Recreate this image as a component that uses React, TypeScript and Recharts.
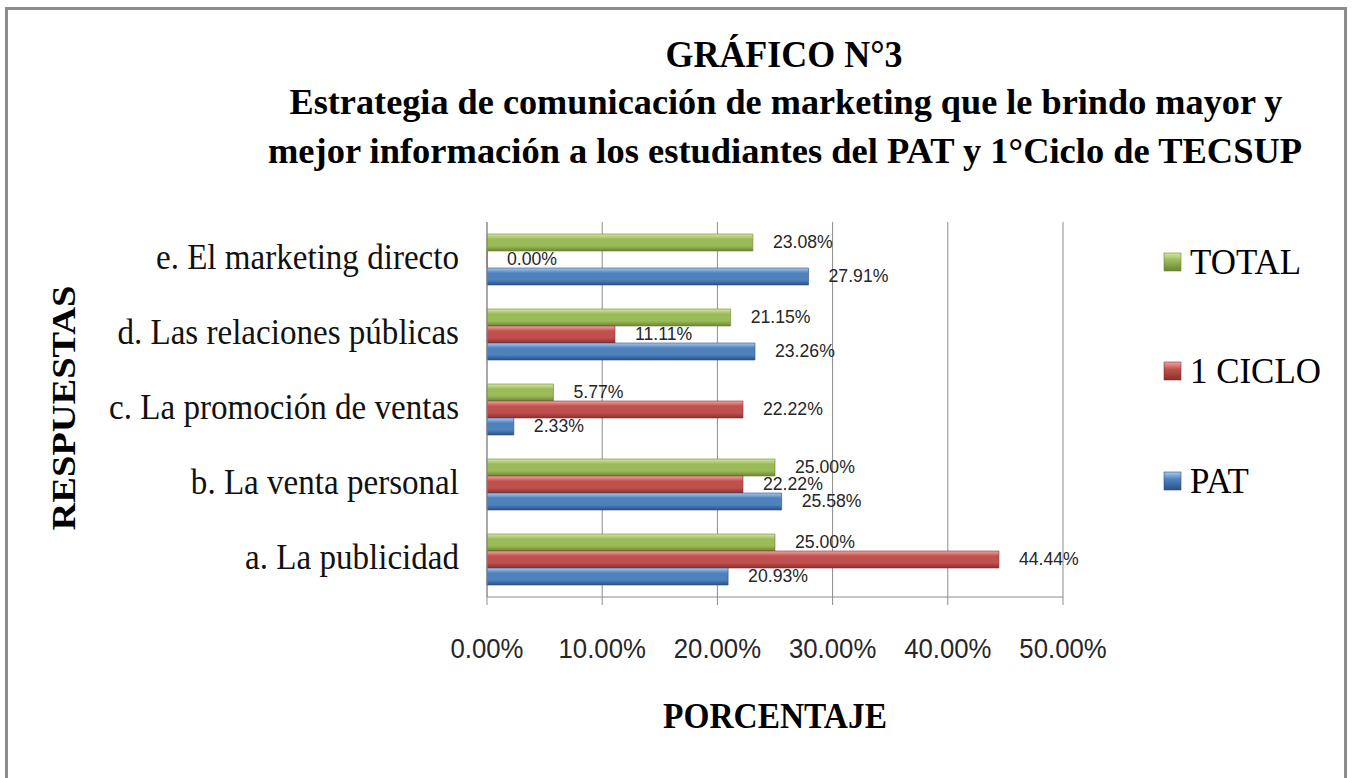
import React from 'react';
import { BarChart, Bar, XAxis, YAxis, CartesianGrid, LabelList } from 'recharts';

const categories = [
  'a. La publicidad',
  'b. La venta personal',
  'c. La promoción de ventas',
  'd. Las relaciones públicas',
  'e. El marketing directo',
];
const patValues = [20.93, 25.58, 2.33, 23.26, 27.91];
const cicloValues = [44.44, 22.22, 22.22, 11.11, 0.0];
const totalValues = [25.0, 25.0, 5.77, 21.15, 23.08];
const seriesKeys = ['total', 'ciclo', 'pat'];
const seriesNames = ['TOTAL', '1 CICLO', 'PAT'];
const seriesColors = ['#9bbb59', '#c0504d', '#4f81bd'];
const seriesLight = ['#d4e6a5', '#eea7a5', '#a9c8ee'];
const seriesDark = ['#6b8530', '#8a2f2d', '#2a5186'];
const xTicks = [0, 10, 20, 30, 40, 50];
const titleLines = [
  'GRÁFICO N°3',
  'Estrategia de comunicación de marketing que le brindo mayor y',
  'mejor información a los estudiantes del PAT y 1°Ciclo de TECSUP',
];
const xAxisTitle = 'PORCENTAJE';
const yAxisTitle = 'RESPUESTAS';

const data = categories.map((name, i) => ({
  name,
  pat: patValues[i],
  ciclo: cicloValues[i],
  total: totalValues[i],
}));

const fmt = (v: number) => `${Number(v).toFixed(2)}%`;

const XTick = (props: any) => {
  const { x, y, payload } = props;
  return (
    <text
      transform={`translate(${x},${y + 51}) scale(0.92,1)`}
      textAnchor="middle"
      fontFamily="'Liberation Sans', Arial, sans-serif"
      fontSize={28}
      fill="#262626"
    >
      {fmt(payload.value)}
    </text>
  );
};

const YTick = (props: any) => {
  const { x, y, payload } = props;
  return (
    <text
      transform={`translate(${x - 20},${y + 9}) scale(0.945,1)`}
      textAnchor="end"
      fontFamily="'Liberation Serif', 'Times New Roman', serif"
      fontSize={35}
      fill="#111"
    >
      {payload.value}
    </text>
  );
};

const ValueLabel = (props: any) => {
  const { x, y, width, height, value } = props;
  return (
    <text
      transform={`translate(${x + (width || 0) + 20},${y + height / 2 + 5}) scale(0.93,1)`}
      textAnchor="start"
      fontFamily="'Liberation Sans', Arial, sans-serif"
      fontSize={19}
      fill="#262626"
    >
      {fmt(value)}
    </text>
  );
};

const serif = "'Liberation Serif', 'Times New Roman', serif";

export default function App() {
  return (
    <div style={{ position: 'absolute', left: 0, top: 0, width: 1352, height: 778, background: '#fff', overflow: 'hidden' }}>
      <BarChart
        width={1352}
        height={778}
        data={data}
        layout="vertical"
        margin={{ top: 222, right: 289, bottom: 121, left: 0 }}
        barGap={0}
        barSize={17}
      >
        <defs>
          {seriesKeys.map((k, i) => (
            <linearGradient key={k} id={`grad-${k}`} x1="0" y1="0" x2="0" y2="1">
              <stop offset="0%" stopColor={seriesLight[i]} />
              <stop offset="30%" stopColor={seriesColors[i]} />
              <stop offset="70%" stopColor={seriesColors[i]} />
              <stop offset="100%" stopColor={seriesDark[i]} />
            </linearGradient>
          ))}
        </defs>
        <CartesianGrid horizontal={false} stroke="#8c8c8c" strokeWidth={1} />
        <XAxis
          type="number"
          domain={[0, 50]}
          ticks={xTicks}
          interval={0}
          stroke="#8c8c8c"
          tickSize={8}
          tick={<XTick />}
          height={60}
        />
        <YAxis
          type="category"
          dataKey="name"
          reversed
          width={487}
          stroke="#8c8c8c"
          tickLine={false}
          tick={<YTick />}
        />
        {seriesKeys.map((k, i) => (
          <Bar
            key={k}
            dataKey={k}
            name={seriesNames[i]}
            fill={`url(#grad-${k})`}
            stroke={seriesDark[i]}
            strokeWidth={0.6}
            minPointSize={0.01}
            isAnimationActive={false}
          >
            <LabelList dataKey={k} content={<ValueLabel />} />
          </Bar>
        ))}
      </BarChart>
      <svg
        width={1352}
        height={778}
        style={{ position: 'absolute', left: 0, top: 0, pointerEvents: 'none' }}
      >
        <defs>
          {seriesKeys.map((k, i) => (
            <linearGradient key={k} id={`lg-${k}`} x1="0" y1="0" x2="0" y2="1">
              <stop offset="0%" stopColor={seriesLight[i]} />
              <stop offset="40%" stopColor={seriesColors[i]} />
              <stop offset="100%" stopColor={seriesDark[i]} />
            </linearGradient>
          ))}
        </defs>
        <rect x={6.5} y={8.5} width={1339} height={800} fill="none" stroke="#8c8c8c" strokeWidth={3} />
        <text x={784} y={67} textAnchor="middle" fontFamily={serif} fontWeight="bold" fontSize={37} textLength={237} lengthAdjust="spacingAndGlyphs" fill="#000">
          {titleLines[0]}
        </text>
        <text x={786} y={114} textAnchor="middle" fontFamily={serif} fontWeight="bold" fontSize={36} textLength={993} lengthAdjust="spacingAndGlyphs" fill="#000">
          {titleLines[1]}
        </text>
        <text x={785} y={163} textAnchor="middle" fontFamily={serif} fontWeight="bold" fontSize={36} textLength={1034} lengthAdjust="spacingAndGlyphs" fill="#000">
          {titleLines[2]}
        </text>
        <text x={775} y={728} textAnchor="middle" fontFamily={serif} fontWeight="bold" fontSize={35} textLength={224} lengthAdjust="spacingAndGlyphs" fill="#000">
          {xAxisTitle}
        </text>
        <text transform="translate(75,408) rotate(-90)" textAnchor="middle" fontFamily={serif} fontWeight="bold" fontSize={34} textLength={245} lengthAdjust="spacingAndGlyphs" fill="#000">
          {yAxisTitle}
        </text>
        {seriesNames.map((n, i) => {
          const cy = [262, 371, 481][i];
          return (
            <g key={n}>
              <rect x={1164} y={cy - 9} width={17} height={18} fill={`url(#lg-${seriesKeys[i]})`} stroke={seriesDark[i]} strokeWidth={0.6} />
              <text transform={`translate(1190,${cy + 12}) scale(0.97,1)`} fontFamily={serif} fontSize={36} fill="#000">
                {n}
              </text>
            </g>
          );
        })}
      </svg>
    </div>
  );
}
